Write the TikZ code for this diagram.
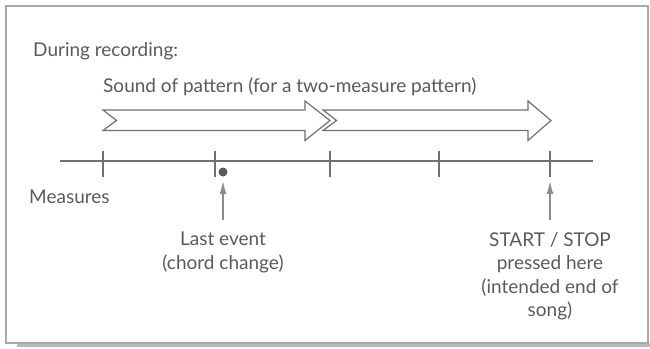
\documentclass[tikz,border=0pt]{standalone}
\usepackage{fontspec}
\setmainfont{Lato}
\usetikzlibrary{arrows.meta}
\definecolor{ink}{HTML}{5A5A5A}
\definecolor{linec}{HTML}{707070}
\definecolor{framec}{HTML}{A8A8A8}
\begin{document}
\begin{tikzpicture}[x=1pt,y=-1pt,
  lbl/.style={inner sep=0pt, text=ink, font=\fontsize{19}{23.5}\selectfont},
  bigarrow/.style={draw=linec, line width=1.2pt, fill=white, line join=miter},
  tickmark/.style={draw=linec, line width=1.3pt},
  pointer/.style={draw=linec!80, line width=1.2pt, -{Latex[length=13pt,width=7pt]}}]
\useasboundingbox (0,0) rectangle (650,348);
% frame
\fill[framec!80] (17,343) rectangle (650,347);
\draw[framec, line width=2pt] (6,6) rectangle (648,343);
% texts
\node[lbl, anchor=base west] (during) at (33,56) {During recording:};
\node[lbl, anchor=base west] (sound) at (103,92) {Sound of pattern (for a two-measure pattern)};
\node[lbl, anchor=base west] (meas) at (29,203) {Measures};
\node[lbl, anchor=north, align=center] (last) at (223,232) {Last event\\(chord change)};
\node[lbl, anchor=north, align=center] (ss) at (550,232) {START / STOP\\pressed here\\(intended end of\\song)};
% big arrows
\draw[bigarrow] (103,110) -- (305,110) -- (305,101) -- (330,120.5) -- (305,140.5) -- (305,130.5) -- (103,130.5) -- (116.5,120.5) -- cycle;
\draw[bigarrow] (323,110) -- (528,110) -- (528,101) -- (551,120.5) -- (528,140.5) -- (528,130.5) -- (323,130.5) -- (336.5,120.5) -- cycle;
% axis
\coordinate (axl) at (60,161);
\coordinate (axr) at (593,161);
\draw[tickmark] (axl) -- (axr);
\foreach \x in {103,215,330,439,550} \draw[tickmark] (\x,151) -- (\x,177);
% dot
\node[circle, fill=ink, inner sep=0pt, minimum size=9pt] (dot) at (223,172) {};
% pointers
\coordinate (p1tail) at (223,220);
\coordinate (p1tip) at (223,181);
\coordinate (p2tail) at (550,220);
\coordinate (p2tip) at (550,181);
\draw[pointer] (p1tail) -- (p1tip);
\draw[pointer] (p2tail) -- (p2tip);
\end{tikzpicture}
\end{document}
